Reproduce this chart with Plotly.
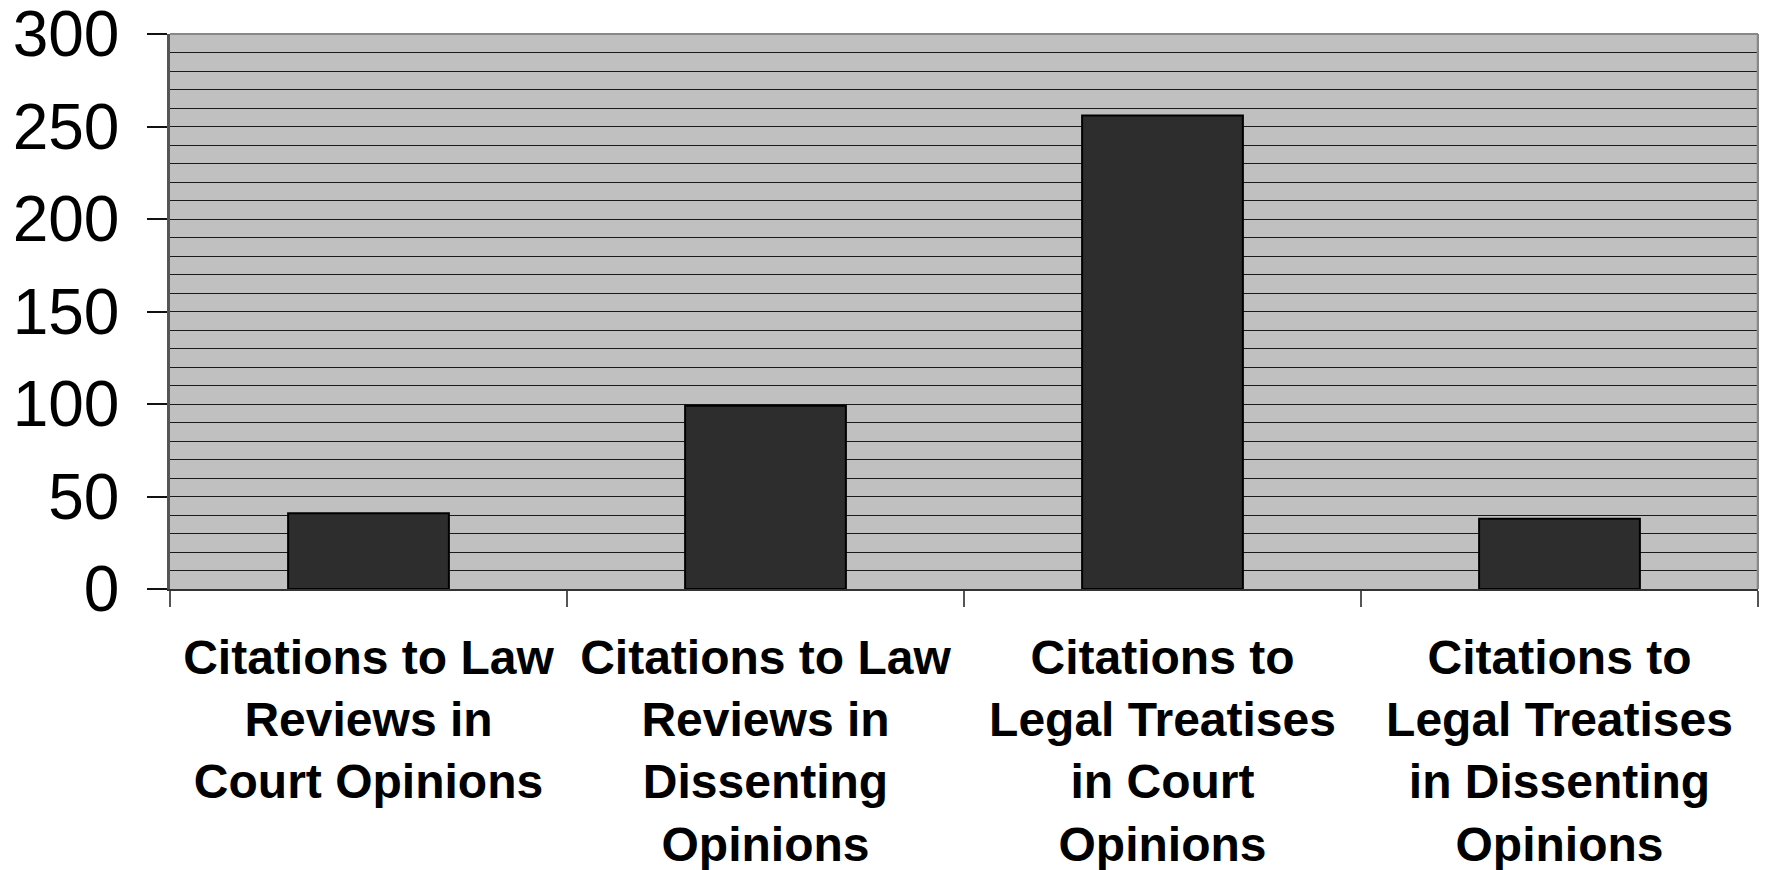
import plotly.graph_objects as go

categories = [
    "Citations to Law<br>Reviews in<br>Court Opinions",
    "Citations to Law<br>Reviews in<br>Dissenting<br>Opinions",
    "Citations to<br>Legal Treatises<br>in Court<br>Opinions",
    "Citations to<br>Legal Treatises<br>in Dissenting<br>Opinions",
]
values = [41, 99, 256, 38]
y_ticks = [0, 50, 100, 150, 200, 250, 300]

# the page body has an 8px default margin; compensate so the plot lands where the reference has it
fig = go.Figure()
fig.add_trace(go.Bar(
    x=categories, y=values,
    marker=dict(color="#2d2d2d", line=dict(color="#000000", width=2)),
    width=0.405,
))

fig.update_layout(
    width=1759, height=862,
    margin=dict(l=162, r=9, t=26, b=281, autoexpand=False),
    paper_bgcolor="white", plot_bgcolor="#c0c0c0",
    showlegend=False,
    font=dict(family="Liberation Sans, Arial, sans-serif", color="black"),
)

fig.update_xaxes(
    type="category",
    automargin=False,
    tickson="boundaries",
    ticks="outside", ticklen=16, tickwidth=1.5, tickcolor="#555555",
    showline=True, linecolor="#333333", linewidth=2,
    showgrid=False,
    tickfont=dict(size=48, weight=700, family="Liberation Sans, Arial, sans-serif"),
    ticklabelstandoff=25,
    ticklabeloverflow="allow",
)

fig.update_yaxes(
    range=[0, 300],
    automargin=False,
    tickvals=y_ticks,
    ticks="outside", ticklen=20, tickwidth=1.5, tickcolor="#111111",
    showline=True, linecolor="#555555", linewidth=2.5,
    showgrid=True, gridcolor="#1a1a1a", gridwidth=1,
    zeroline=False,
    minor=dict(dtick=10, showgrid=True, gridcolor="#1a1a1a", gridwidth=1, ticks=""),
    tickfont=dict(size=64, family="Liberation Sans, Arial, sans-serif"),
    ticklabelstandoff=15,
    ticklabeloverflow="allow",
)

fig.add_shape(type="line", xref="x domain", yref="y domain", x0=0, x1=1, y0=1, y1=1,
              line=dict(color="#888888", width=2))
fig.add_shape(type="line", xref="x domain", yref="y domain", x0=1, x1=1, y0=0, y1=1,
              line=dict(color="#888888", width=2.5))

fig.write_html("out.html")
